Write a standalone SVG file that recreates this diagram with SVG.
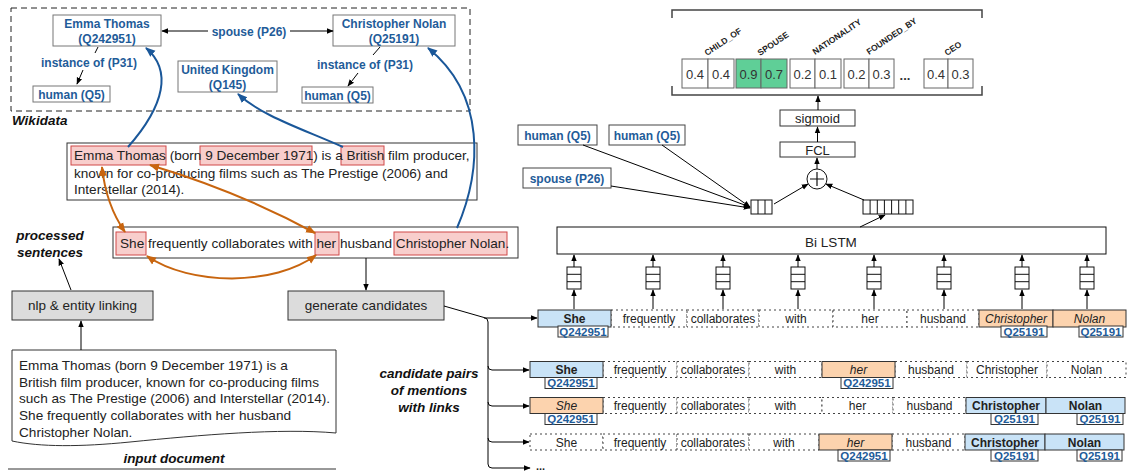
<svg xmlns="http://www.w3.org/2000/svg" width="1130" height="473" viewBox="0 0 1130 473">
<style>
text{font-family:"Liberation Sans",Arial,Helvetica,sans-serif;}
.wd{fill:#1f5c99;font-weight:bold;font-size:12px;text-anchor:middle}
.wbox{fill:#fff;stroke:#777;stroke-width:1}
.hl{fill:#f8cecc;stroke:#d04848;stroke-width:1}
.txt{font-size:13.6px;fill:#222}
.lbl{font-size:13.5px;font-weight:bold;font-style:italic;fill:#111;text-anchor:middle}
.gray{fill:#dcdcdc;stroke:#333;stroke-width:1}
.ctr{text-anchor:middle}
.ln{fill:none;stroke:#000;stroke-width:1}
.bl{fill:none;stroke:#1a5799;stroke-width:2}
.or{fill:none;stroke:#c8650f;stroke-width:2}
.cell{fill:#fff;stroke:#666;stroke-width:1}
.grn{fill:#5fcf97;stroke:#666;stroke-width:1}
.val{font-size:13px;fill:#333;text-anchor:middle}
.rel{font-size:8.5px;font-weight:bold;fill:#222}
.tok{font-size:12px;fill:#222;text-anchor:middle}
.dot{fill:#fff;stroke:#444;stroke-width:1;stroke-dasharray:2,3}
.mb{fill:#c9e3f7;stroke:#333;stroke-width:1}
.mo{fill:#fcd3ae;stroke:#333;stroke-width:1}
.q{fill:#fff;stroke:#333;stroke-width:1}
.qt{font-size:11.5px;font-weight:bold;fill:#1f5c99;text-anchor:middle}
.vb{fill:#fff;stroke:#111;stroke-width:1}
</style>
<defs>
<marker id="ak" viewBox="0 0 10 10" refX="9" refY="5" markerWidth="7" markerHeight="7" markerUnits="userSpaceOnUse" orient="auto-start-reverse"><path d="M0,1 L10,5 L0,9 z" fill="#000"/></marker>
<marker id="abl" viewBox="0 0 10 10" refX="9" refY="5" markerWidth="10" markerHeight="10" markerUnits="userSpaceOnUse" orient="auto-start-reverse"><path d="M0,1 L10,5 L0,9 z" fill="#1a5799"/></marker>
<marker id="aor" viewBox="0 0 10 10" refX="9" refY="5" markerWidth="10" markerHeight="10" markerUnits="userSpaceOnUse" orient="auto-start-reverse"><path d="M0,1 L10,5 L0,9 z" fill="#c8650f"/></marker>
</defs>
<rect width="1130" height="473" fill="#fff"/>

<g id="wikidata">
<rect x="11" y="8" width="459" height="103" fill="none" stroke="#222" stroke-width="1" stroke-dasharray="6,4"/>
<text x="12" y="125" style="font-size:13.5px;font-weight:bold;font-style:italic;fill:#111">Wikidata</text>
</g>
<g id="wd-emma"><rect class="wbox" x="53" y="15" width="108" height="31"/><text class="wd" x="107" y="27.5">Emma Thomas</text><text class="wd" x="107" y="43">(Q242951)</text></g>
<g id="wd-nolan"><rect class="wbox" x="333" y="15" width="122" height="31"/><text class="wd" x="394" y="27.5">Christopher Nolan</text><text class="wd" x="394" y="43">(Q25191)</text></g>
<g id="wd-uk"><rect class="wbox" x="178" y="61" width="99" height="31"/><text class="wd" x="227.5" y="73.5">United Kingdom</text><text class="wd" x="227.5" y="89">(Q145)</text></g>
<g id="wd-human-l"><rect class="wbox" x="33" y="86" width="77" height="16"/><text class="wd" x="71.5" y="98.5">human (Q5)</text></g>
<g id="wd-human-r"><rect class="wbox" x="302" y="87" width="71" height="16"/><text class="wd" x="337.5" y="99.5">human (Q5)</text></g>
<g id="wd-labels">
<text class="wd" x="89" y="67">instance of (P31)</text>
<text class="wd" x="365" y="69">instance of (P31)</text>
<text class="wd" x="249" y="35.5">spouse (P26)</text>
</g>

<g id="sentence1">
<rect x="67" y="143" width="410" height="57" fill="#fff" stroke="#333" stroke-width="1"/>
<rect class="hl" x="71" y="146" width="95" height="19"/>
<rect class="hl" x="200" y="146" width="112" height="19"/>
<rect class="hl" x="341" y="146" width="43" height="19"/>
<text class="txt" x="74" y="160">Emma Thomas (born 9 December 1971) is a British film producer,</text>
<text class="txt" x="74" y="177.5">known for co-producing films such as The Prestige (2006) and</text>
<text class="txt" x="74" y="194">Interstellar (2014).</text>
</g>
<g id="sentence2">
<rect x="113" y="227" width="405" height="31" fill="#fff" stroke="#333" stroke-width="1"/>
<rect class="hl" x="116" y="232" width="30" height="23"/>
<rect class="hl" x="315" y="232" width="24" height="23"/>
<rect class="hl" x="394" y="232" width="113" height="23"/>
<text class="txt" x="120" y="248">She frequently collaborates with her husband Christopher Nolan.</text>
</g>
<g id="lbl-processed"><text class="lbl" x="50" y="240">processed</text><text class="lbl" x="50" y="257">sentences</text></g>
<g id="nlp"><rect class="gray" x="12" y="291" width="141" height="29"/><text class="ctr" x="82.5" y="310" style="font-size:13.5px;fill:#222">nlp &amp; entity linking</text></g>
<g id="gen"><rect class="gray" x="288" y="291" width="156" height="29"/><text class="ctr" x="366" y="310" style="font-size:13.5px;fill:#222">generate candidates</text></g>
<g id="input-doc">
<path d="M12,350 H336 V433 C280,428 200,435 130,442 C80,447 40,447 12,441 Z" fill="#fff" stroke="#333" stroke-width="1"/>
<text class="txt" x="19" y="370">Emma Thomas (born 9 December 1971) is a</text>
<text class="txt" x="19" y="386.7">British film producer, known for co-producing films</text>
<text class="txt" x="19" y="403.3">such as The Prestige (2006) and Interstellar (2014).</text>
<text class="txt" x="19" y="420">She frequently collaborates with her husband</text>
<text class="txt" x="19" y="436.7">Christopher Nolan.</text>
</g>
<g id="lbl-input"><text class="lbl" x="174" y="463">input document</text><line x1="8" y1="469" x2="336" y2="469" stroke="#333" stroke-width="1"/></g>
<g id="lbl-cand"><text class="lbl" x="429" y="378">candidate pairs</text><text class="lbl" x="429" y="395">of mentions</text><text class="lbl" x="429" y="411.5">with links</text></g>

<g id="output">
<path d="M672,18 V10 H982 V18 M672,86 V95 H982 V86" fill="none" stroke="#444" stroke-width="1.5"/>
<rect class="cell" x="682" y="59" width="26" height="29"/><rect class="cell" x="708" y="59" width="26" height="29"/>
<rect class="grn" x="736" y="59" width="25" height="29"/><rect class="grn" x="761" y="59" width="26" height="29"/>
<rect class="cell" x="790" y="59" width="25" height="29"/><rect class="cell" x="815" y="59" width="26" height="29"/>
<rect class="cell" x="844" y="59" width="25" height="29"/><rect class="cell" x="869" y="59" width="25" height="29"/>
<rect class="cell" x="924" y="59" width="24" height="29"/><rect class="cell" x="948" y="59" width="25" height="29"/>
<text class="val" x="695" y="79">0.4</text><text class="val" x="721" y="79">0.4</text>
<text class="val" x="748.5" y="79">0.9</text><text class="val" x="774" y="79">0.7</text>
<text class="val" x="802.5" y="79">0.2</text><text class="val" x="828" y="79">0.1</text>
<text class="val" x="856.5" y="79">0.2</text><text class="val" x="881.5" y="79">0.3</text>
<text class="val" x="905" y="80" style="font-weight:bold">...</text>
<text class="val" x="936" y="79">0.4</text><text class="val" x="960.5" y="79">0.3</text>
<text class="rel" transform="translate(707,56) rotate(-34)">CHILD_OF</text>
<text class="rel" transform="translate(760,56) rotate(-34)">SPOUSE</text>
<text class="rel" transform="translate(815,55) rotate(-34)">NATIONALITY</text>
<text class="rel" transform="translate(869,55) rotate(-34)">FOUNDED_BY</text>
<text class="rel" transform="translate(947,56) rotate(-34)">CEO</text>
</g>
<g id="sigmoid"><rect x="780" y="110" width="75" height="16" fill="#fff" stroke="#333"/><text class="ctr" x="817.5" y="123" style="font-size:13px;fill:#222">sigmoid</text></g>
<g id="fcl"><rect x="780" y="142" width="75" height="15" fill="#fff" stroke="#333"/><text class="ctr" x="817.5" y="154.5" style="font-size:13px;fill:#222">FCL</text></g>
<g id="plus"><circle cx="817" cy="179" r="10" fill="#fff" stroke="#111"/><path d="M810,179 H824 M817,172 V186" stroke="#111" stroke-width="1.2"/></g>
<g id="human1"><rect class="wbox" x="518" y="125" width="79" height="20" style="stroke:#444"/><text class="wd" x="557.5" y="139.5">human (Q5)</text></g>
<g id="human2"><rect class="wbox" x="609" y="125" width="76" height="20" style="stroke:#444"/><text class="wd" x="647" y="139.5">human (Q5)</text></g>
<g id="spouse-rel"><rect class="wbox" x="523" y="168" width="88" height="20" style="stroke:#444"/><text class="wd" x="567" y="182.5">spouse (P26)</text></g>
<g id="vec-small"><rect class="vb" x="751" y="200" width="21" height="14"/><path d="M758,200 V214 M765,200 V214" stroke="#111"/></g>
<g id="vec-large"><rect class="vb" x="863" y="200" width="50" height="14"/><path d="M870.1,200 V214 M877.3,200 V214 M884.4,200 V214 M891.6,200 V214 M898.7,200 V214 M905.9,200 V214" stroke="#111"/></g>
<g id="bilstm"><rect x="557" y="227" width="549" height="27" fill="#fff" stroke="#111"/><text class="ctr" x="831" y="247" style="font-size:13.5px;fill:#222">Bi LSTM</text></g>
<g id="token-vectors" fill="#fff" stroke="#111">
<rect x="567" y="267" width="14" height="22"/><path d="M567,274.3 H581 M567,281.7 H581"/>
<rect x="646" y="267" width="14" height="22"/><path d="M646,274.3 H660 M646,281.7 H660"/>
<rect x="716" y="267" width="14" height="22"/><path d="M716,274.3 H730 M716,281.7 H730"/>
<rect x="791" y="267" width="14" height="22"/><path d="M791,274.3 H805 M791,281.7 H805"/>
<rect x="867" y="267" width="14" height="22"/><path d="M867,274.3 H881 M867,281.7 H881"/>
<rect x="937" y="267" width="14" height="22"/><path d="M937,274.3 H951 M937,281.7 H951"/>
<rect x="1015" y="267" width="14" height="22"/><path d="M1015,274.3 H1029 M1015,281.7 H1029"/>
<rect x="1080" y="267" width="14" height="22"/><path d="M1080,274.3 H1094 M1080,281.7 H1094"/>
</g>

<g id="row1">
<rect class="dot" x="611" y="310" width="76" height="17"/><rect class="dot" x="687" y="310" width="72" height="17"/><rect class="dot" x="759" y="310" width="74" height="17"/><rect class="dot" x="833" y="310" width="74" height="17"/><rect class="dot" x="907" y="310" width="72" height="17"/>
<rect class="mb" x="538" y="310" width="73" height="17"/><rect class="mo" x="979" y="310" width="74" height="17"/><rect class="mo" x="1053" y="310" width="73" height="17"/>
<text class="tok" x="574.5" y="323" font-weight="bold">She</text><text class="tok" x="649" y="323">frequently</text><text class="tok" x="723" y="323">collaborates</text><text class="tok" x="796" y="323">with</text><text class="tok" x="870" y="323">her</text><text class="tok" x="943" y="323">husband</text><text class="tok" x="1016" y="323" font-style="italic">Christopher</text><text class="tok" x="1089.5" y="323" font-style="italic">Nolan</text>
<rect class="q" x="558" y="326" width="50" height="11"/><text class="qt" x="583" y="335.5">Q242951</text>
<rect class="q" x="1001" y="326" width="46" height="11"/><text class="qt" x="1024" y="335.5">Q25191</text>
<rect class="q" x="1079" y="326" width="44" height="11"/><text class="qt" x="1101" y="335.5">Q25191</text>
</g>
<g id="row2">
<rect class="dot" x="603" y="361.5" width="74" height="16"/><rect class="dot" x="677" y="361.5" width="72" height="16"/><rect class="dot" x="749" y="361.5" width="73" height="16"/><rect class="dot" x="895" y="361.5" width="72" height="16"/><rect class="dot" x="967" y="361.5" width="80" height="16"/><rect class="dot" x="1047" y="361.5" width="79" height="16"/>
<rect class="mb" x="530" y="361.5" width="73" height="16"/><rect class="mo" x="822" y="361.5" width="73" height="16"/>
<text class="tok" x="566.5" y="374" font-weight="bold">She</text><text class="tok" x="640" y="374">frequently</text><text class="tok" x="713" y="374">collaborates</text><text class="tok" x="785.5" y="374">with</text><text class="tok" x="858.5" y="374" font-style="italic">her</text><text class="tok" x="931" y="374">husband</text><text class="tok" x="1007" y="374">Christopher</text><text class="tok" x="1086.5" y="374">Nolan</text>
<rect class="q" x="545" y="377.5" width="52" height="11"/><text class="qt" x="571" y="387">Q242951</text>
<rect class="q" x="841" y="377.5" width="52" height="11"/><text class="qt" x="867" y="387">Q242951</text>
</g>
<g id="row3">
<rect class="dot" x="603" y="397.5" width="74" height="16"/><rect class="dot" x="677" y="397.5" width="72" height="16"/><rect class="dot" x="749" y="397.5" width="73" height="16"/><rect class="dot" x="822" y="397.5" width="71" height="16"/><rect class="dot" x="893" y="397.5" width="73" height="16"/>
<rect class="mo" x="530" y="397.5" width="73" height="16"/><rect class="mb" x="966" y="397.5" width="80" height="16"/><rect class="mb" x="1046" y="397.5" width="79" height="16"/>
<text class="tok" x="566.5" y="410" font-style="italic">She</text><text class="tok" x="640" y="410">frequently</text><text class="tok" x="713" y="410">collaborates</text><text class="tok" x="785.5" y="410">with</text><text class="tok" x="857.5" y="410">her</text><text class="tok" x="929.5" y="410">husband</text><text class="tok" x="1006" y="410" font-weight="bold">Christopher</text><text class="tok" x="1085.5" y="410" font-weight="bold">Nolan</text>
<rect class="q" x="545" y="413.5" width="52" height="11"/><text class="qt" x="571" y="423">Q242951</text>
<rect class="q" x="991" y="413.5" width="47" height="11"/><text class="qt" x="1014.5" y="423">Q25191</text>
<rect class="q" x="1077" y="413.5" width="46" height="11"/><text class="qt" x="1100" y="423">Q25191</text>
</g>
<g id="row4">
<rect class="dot" x="530" y="434" width="73" height="16"/><rect class="dot" x="603" y="434" width="74" height="16"/><rect class="dot" x="677" y="434" width="72" height="16"/><rect class="dot" x="749" y="434" width="70" height="16"/><rect class="dot" x="892" y="434" width="73" height="16"/>
<rect class="mo" x="819" y="434" width="73" height="16"/><rect class="mb" x="965" y="434" width="80" height="16"/><rect class="mb" x="1045" y="434" width="79" height="16"/>
<text class="tok" x="566.5" y="446.5">She</text><text class="tok" x="640" y="446.5">frequently</text><text class="tok" x="713" y="446.5">collaborates</text><text class="tok" x="784" y="446.5">with</text><text class="tok" x="855.5" y="446.5" font-style="italic">her</text><text class="tok" x="928.5" y="446.5">husband</text><text class="tok" x="1005" y="446.5" font-weight="bold">Christopher</text><text class="tok" x="1084.5" y="446.5" font-weight="bold">Nolan</text>
<rect class="q" x="838" y="450" width="52" height="11"/><text class="qt" x="864" y="459.5">Q242951</text>
<rect class="q" x="991" y="450" width="47" height="11"/><text class="qt" x="1014.5" y="459.5">Q25191</text>
<rect class="q" x="1077" y="450" width="45" height="11"/><text class="qt" x="1099.5" y="459.5">Q25191</text>
</g>
<g id="row5"><text x="536" y="470" style="font-size:11px;font-weight:bold;fill:#222">...</text></g>

<g id="connectors">
<line class="ln" x1="208" y1="31" x2="162" y2="31" marker-end="url(#ak)"/>
<line class="ln" x1="290" y1="31" x2="333" y2="31" marker-end="url(#ak)"/>
<line class="ln" x1="98" y1="47" x2="95" y2="53"/>
<line class="ln" x1="83" y1="70" x2="77" y2="84" marker-end="url(#ak)"/>
<line class="ln" x1="380" y1="47" x2="373" y2="55"/>
<line class="ln" x1="358" y1="73" x2="348" y2="86" marker-end="url(#ak)"/>
<path class="bl" d="M128,147 C165,105 172,70 146,48" marker-end="url(#abl)"/>
<path class="bl" d="M343,147 C300,128 262,116 238,94" marker-end="url(#abl)"/>
<path class="bl" d="M457,228 C482,170 486,95 428,48" marker-end="url(#abl)"/>
<path class="or" d="M102,167 Q106,205 125,232" marker-start="url(#aor)" marker-end="url(#aor)"/>
<path class="or" d="M150,165 Q240,192 315,233" marker-start="url(#aor)" marker-end="url(#aor)"/>
<path class="or" d="M147,256 C190,286 275,286 316,255" marker-start="url(#aor)" marker-end="url(#aor)"/>
<line class="ln" x1="71" y1="290" x2="59" y2="259" marker-end="url(#ak)"/>
<line class="ln" x1="81" y1="350" x2="81" y2="321" marker-end="url(#ak)"/>
<line class="ln" x1="366" y1="258" x2="366" y2="290" marker-end="url(#ak)"/>
<path class="ln" d="M444,306 L484,317.5 Q488,318 488,322 V464 Q488,468 492,468 H530" marker-end="url(#ak)"/>
<path class="ln" d="M484,318 H537" marker-end="url(#ak)"/>
<path class="ln" d="M488,366 Q488,370 492,370 H529" marker-end="url(#ak)"/>
<path class="ln" d="M488,402 Q488,406 492,406 H529" marker-end="url(#ak)"/>
<path class="ln" d="M488,438 Q488,442 492,442 H529" marker-end="url(#ak)"/>
<line class="ln" x1="818" y1="110" x2="818" y2="96" marker-end="url(#ak)"/>
<line class="ln" x1="817.5" y1="142" x2="817.5" y2="127" marker-end="url(#ak)"/>
<line class="ln" x1="817" y1="169" x2="817" y2="158" marker-end="url(#ak)"/>
<line class="ln" x1="774" y1="204" x2="808" y2="184" marker-end="url(#ak)"/>
<line class="ln" x1="864" y1="200" x2="826" y2="184" marker-end="url(#ak)"/>
<line class="ln" x1="860" y1="227" x2="885" y2="215" marker-end="url(#ak)"/>
<line class="ln" x1="583" y1="145" x2="750" y2="207" marker-end="url(#ak)"/>
<line class="ln" x1="662" y1="145" x2="750" y2="207" marker-end="url(#ak)"/>
<line class="ln" x1="611" y1="186" x2="750" y2="208" marker-end="url(#ak)"/>
<g class="ln">
<line x1="574" y1="267" x2="574" y2="255" marker-end="url(#ak)"/><line x1="574" y1="309" x2="574" y2="290" marker-end="url(#ak)"/>
<line x1="653" y1="267" x2="653" y2="255" marker-end="url(#ak)"/><line x1="653" y1="309" x2="653" y2="290" marker-end="url(#ak)"/>
<line x1="723" y1="267" x2="723" y2="255" marker-end="url(#ak)"/><line x1="723" y1="309" x2="723" y2="290" marker-end="url(#ak)"/>
<line x1="798" y1="267" x2="798" y2="255" marker-end="url(#ak)"/><line x1="798" y1="309" x2="798" y2="290" marker-end="url(#ak)"/>
<line x1="874" y1="267" x2="874" y2="255" marker-end="url(#ak)"/><line x1="874" y1="309" x2="874" y2="290" marker-end="url(#ak)"/>
<line x1="944" y1="267" x2="944" y2="255" marker-end="url(#ak)"/><line x1="944" y1="309" x2="944" y2="290" marker-end="url(#ak)"/>
<line x1="1022" y1="267" x2="1022" y2="255" marker-end="url(#ak)"/><line x1="1022" y1="309" x2="1022" y2="290" marker-end="url(#ak)"/>
<line x1="1087" y1="267" x2="1087" y2="255" marker-end="url(#ak)"/><line x1="1087" y1="309" x2="1087" y2="290" marker-end="url(#ak)"/>
</g>
</g>
</svg>
